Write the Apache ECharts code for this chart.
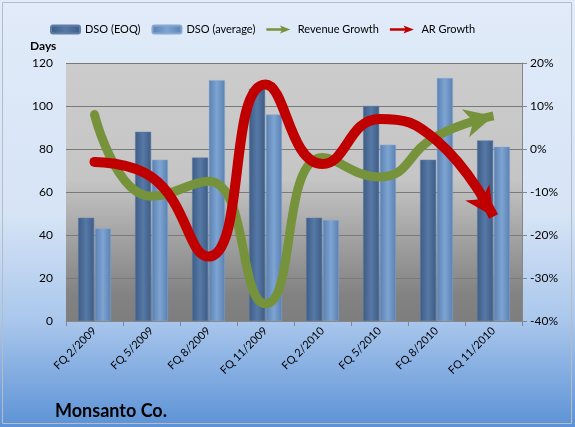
<!DOCTYPE html>
<html>
<head>
<meta charset="utf-8">
<script src="https://cdn.jsdelivr.net/npm/echarts@6/dist/echarts.min.js"></script>
<style>
html, body { margin: 0; padding: 0; }
#chart { width: 575px; height: 427px; }
</style>
</head>
<body>
<div id="chart"></div>
<script>
// data
const categories = ['FQ 2/2009', 'FQ 5/2009', 'FQ 8/2009', 'FQ 11/2009', 'FQ 2/2010', 'FQ 5/2010', 'FQ 8/2010', 'FQ 11/2010'];
const dsoEoq = [48, 88, 76, 108, 48, 100, 75, 84];
const dsoAvg = [43, 75, 112, 96, 47, 82, 113, 81];
const revenueGrowth = [8, -11, -7.5, -36, -2, -6.5, 3, 7.7];
const arGrowth = [-3, -6.5, -25, 15, -3.5, 7, 2, -15.7];

const font = 'Lato, "Open Sans", sans-serif';

function barColor(c1, c2) {
  return new echarts.graphic.LinearGradient(0, 0, 1, 0, [
    { offset: 0, color: c1 },
    { offset: 0.5, color: c2 },
    { offset: 1, color: c1 }
  ]);
}

// round start of the thick lines (only the first point gets a dot)
function roundStart(values, size) {
  return values.map((v, i) => i === 0 ? { value: v, symbol: 'circle', symbolSize: size } : v);
}

// arrow head drawn with its tip on the last point of a line series
function arrowHead(name, values, color, dir) {
  const last = values.length - 1;
  const len = Math.hypot(dir[0], dir[1]);
  const dx = dir[0] / len, dy = dir[1] / len;
  return {
    name: name,
    type: 'custom',
    yAxisIndex: 1,
    z: 3,
    data: [[last, values[last]]],
    renderItem: function (params, api) {
      const p = api.coord([api.value(0), api.value(1)]);
      const L = 29, W = 29;
      const bx = p[0] - dx * L, by = p[1] - dy * L;
      const nx = p[0] - dx * L * 0.72, ny = p[1] - dy * L * 0.72;
      return {
        type: 'polygon',
        shape: {
          points: [
            p,
            [bx - dy * W / 2, by + dx * W / 2],
            [nx, ny],
            [bx + dy * W / 2, by - dx * W / 2]
          ]
        },
        style: { fill: color }
      };
    }
  };
}

const arrowIcon = 'path://M0,3.5 L19,3.5 L17,0 L30,5 L17,10 L19,6.5 L0,6.5 Z';

const chart = echarts.init(document.getElementById('chart'));
chart.setOption({
  animation: false,
  backgroundColor: new echarts.graphic.LinearGradient(0, 0, 0, 1, [
    { offset: 0, color: '#e1ebf9' },
    { offset: 0.5, color: '#d6e4f6' },
    { offset: 0.75, color: '#aac7ec' },
    { offset: 1, color: '#5c92d6' }
  ]),
  textStyle: { fontFamily: font },
  title: {
    text: 'Monsanto Co.',
    left: 50,
    top: 397,
    textStyle: { fontSize: 18, fontWeight: 'bold', color: '#000', fontFamily: font }
  },
  graphic: [
    {
      type: 'rect',
      shape: { x: 2.5, y: 2.5, width: 569, height: 421 },
      style: { fill: 'none', stroke: '#b5bcc6', lineWidth: 1 },
      silent: true
    },
    {
      type: 'text',
      left: 30,
      top: 40,
      style: { text: 'Days', font: 'bold 12px ' + font, fill: '#000' }
    }
  ],
  legend: {
    top: 19,
    left: 45,
    itemGap: 11,
    itemWidth: 29,
    itemHeight: 8,
    textStyle: { fontSize: 11, color: '#000', fontFamily: font },
    data: [
      { name: 'DSO (EOQ)', icon: 'roundRect' },
      { name: 'DSO (average)', icon: 'roundRect' },
      { name: 'Revenue Growth', icon: arrowIcon, itemStyle: { color: '#76933c' } },
      { name: 'AR Growth', icon: arrowIcon, itemStyle: { color: '#c00000' } }
    ]
  },
  grid: {
    left: 66,
    right: 53,
    top: 63,
    bottom: 106,
    show: true,
    borderWidth: 0,
    backgroundColor: new echarts.graphic.LinearGradient(0, 0, 0, 1, [
      { offset: 0, color: '#cccccc' },
      { offset: 0.45, color: '#c5c5c5' },
      { offset: 0.72, color: '#9c9c9c' },
      { offset: 0.9, color: '#828282' },
      { offset: 1, color: '#7e7e7e' }
    ])
  },
  xAxis: {
    type: 'category',
    data: categories,
    axisLine: { lineStyle: { color: '#868686' } },
    axisTick: { show: true, length: 5, lineStyle: { color: '#868686' } },
    axisLabel: { rotate: 45, color: '#000', fontSize: 11, margin: 8, fontFamily: font }
  },
  yAxis: [
    {
      type: 'value',
      min: 0,
      max: 120,
      interval: 20,
      axisLine: { show: false },
      axisTick: { show: false },
      axisLabel: { color: '#000', fontSize: 12, margin: 13, fontFamily: font },
      splitLine: { lineStyle: { color: '#7a7a7a', width: 1 } }
    },
    {
      type: 'value',
      min: -40,
      max: 20,
      interval: 10,
      axisLine: { show: true, lineStyle: { color: '#868686' } },
      axisTick: { show: true, length: 5, lineStyle: { color: '#868686' } },
      axisLabel: { color: '#000', fontSize: 12, margin: 8, formatter: '{value}%', fontFamily: font },
      splitLine: { show: false }
    }
  ],
  series: [
    {
      name: 'DSO (EOQ)',
      type: 'bar',
      data: dsoEoq,
      barWidth: 16,
      barGap: '5%',
      itemStyle: { color: barColor('#3d5c85', '#5779a6'), borderColor: '#5f7fa8', borderWidth: 0.5 }
    },
    {
      name: 'DSO (average)',
      type: 'bar',
      data: dsoAvg,
      barWidth: 16,
      itemStyle: { color: barColor('#5a80b2', '#7ea4d2'), borderColor: '#86a8d0', borderWidth: 0.5 }
    },
    {
      name: 'Revenue Growth',
      type: 'line',
      yAxisIndex: 1,
      smooth: 0.5,
      symbol: 'none',
      data: roundStart(revenueGrowth, 9),
      lineStyle: { color: '#76933c', width: 9, cap: 'butt' },
      itemStyle: { color: '#76933c' }
    },
    {
      name: 'AR Growth',
      type: 'line',
      yAxisIndex: 1,
      smooth: 0.5,
      symbol: 'none',
      data: roundStart(arGrowth, 10),
      lineStyle: { color: '#c00000', width: 10, cap: 'butt' },
      itemStyle: { color: '#c00000' }
    },
    arrowHead('Revenue head', revenueGrowth, '#76933c', [27, -7]),
    arrowHead('AR head', arGrowth, '#c00000', [16.5, 24.5])
  ]
});
</script>
</body>
</html>
